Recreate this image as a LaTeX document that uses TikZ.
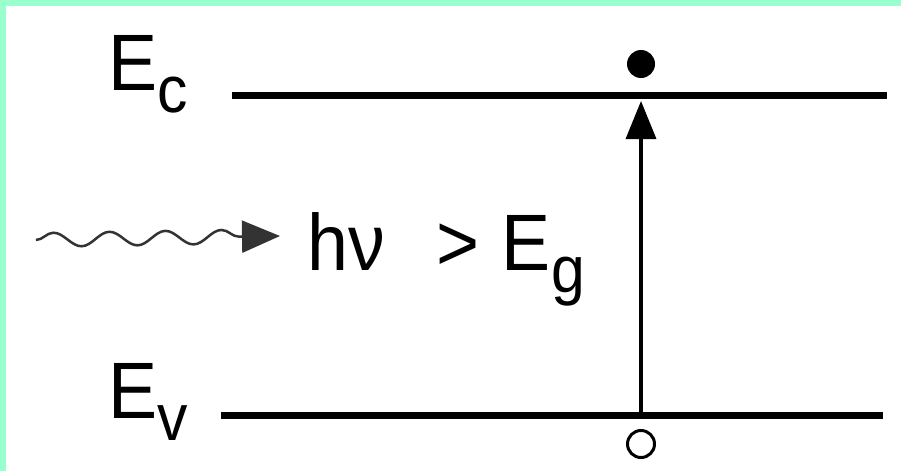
\documentclass[tikz,border=0pt]{standalone}
\usepackage{fontspec}
\usetikzlibrary{arrows.meta,decorations.pathmorphing}
\newfontfamily\bandfont{Liberation Sans}[FakeStretch=0.92]
\definecolor{edgegreen}{HTML}{99FFCC}
\newcommand\bandsub[1]{\raisebox{-22pt}{\fontsize{66}{66}\selectfont #1}}

\tikzset{
    level/.style={line width=7pt},
    bandlabel/.style={anchor=base west, inner sep=0pt, font=\bandfont\fontsize{80}{80}\selectfont},
}

\begin{document}
\begin{tikzpicture}[x=1pt, y=-1pt, >=Triangle]
    % frame
    \fill[edgegreen] (0,0) rectangle (901,471);
    \fill[white] (6,6) rectangle (901,471);
    \useasboundingbox (0,0) rectangle (901,471);

    % band edges
    \draw[level] (232,95) -- (887,95);
    \draw[level] (221,415) -- (883,415);
    \node[bandlabel] (ec) at (108,90) {E\bandsub{c}};
    \node[bandlabel] (ev) at (108,418) {E\bandsub{v}};

    % electron and hole
    \node[circle, fill, inner sep=0pt, minimum size=28pt] (elec) at (641,64) {};
    \node[circle, draw, line width=3pt, inner sep=0pt, minimum width=27pt] (hole) at (641,444) {};

    % excitation
    \coordinate (vbot) at (641,415);
    \coordinate (vtop) at (641,101);
    \draw[->, line width=3.5pt, arrows={-Triangle[length=38pt, width=30pt]}] (vbot) -- (vtop);

    % incoming photon
    \coordinate (src) at (36,240);
    \coordinate (dst) at (280,236);
    \draw[black!80, line width=2.5pt, arrows={-Triangle[length=38pt, width=32pt]},
        decorate, decoration={snake, amplitude=7pt, segment length=56pt, post length=36pt}] (src) -- (dst);
    \node[bandlabel] (photon) at (307,270) {hν\hspace{52pt}>\hspace{22pt}E\bandsub{g}};
\end{tikzpicture}
\end{document}
